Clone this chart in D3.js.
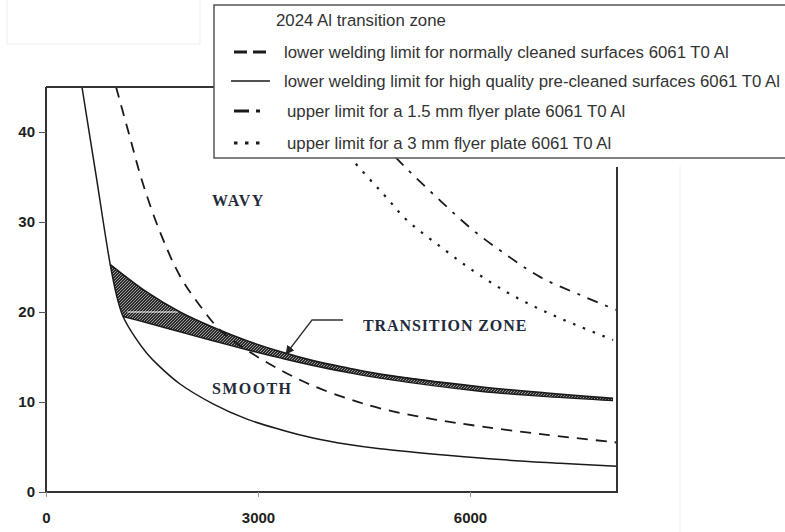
<!DOCTYPE html>
<html>
<head>
<meta charset="utf-8">
<script src="https://cdn.jsdelivr.net/npm/d3@7"></script>
<style>
  html, body { margin: 0; padding: 0; background: #fff; }
  svg { display: block; }
</style>
</head>
<body>
<svg id="chart" width="785" height="532"></svg>
<script>
const svg = d3.select("#chart");

// tick values
const xTicks = [0, 3000, 6000];
const yTicks = [0, 10, 20, 30, 40];

// curves: [x, y]
const highQualityLimit = [[509, 45.0], [708, 35.2], [906, 25.4], [1000, 21.8], [1090, 19.5], [1259, 17.2],
  [1429, 15.4], [1613, 13.9], [1896, 12.0], [2363, 9.8], [2844, 8.1], [3311, 6.95], [3778, 6.0],
  [4259, 5.3], [4726, 4.8], [5717, 4.05], [6424, 3.6], [7273, 3.2], [8080, 2.85]];
const normalCleanLimit = [[991, 45.0], [1174, 39.8], [1358, 34.6], [1613, 28.9], [1896, 24.0], [2179, 20.7],
  [2462, 18.0], [2816, 15.9], [3170, 14.2], [3453, 13.0], [3778, 11.8], [4259, 10.4], [4726, 9.3],
  [5400, 8.2], [6141, 7.3], [7089, 6.35], [8080, 5.5]];
const flyer15Limit = [[4655, 39.6], [5108, 35.9], [5575, 32.4], [6042, 29.1], [6523, 26.3], [6990, 23.9],
  [7556, 21.9], [8080, 20.2]];
const flyer3Limit = [[4089, 39.1], [4471, 35.7], [4797, 32.9], [5108, 30.2], [5575, 27.3], [6042, 24.6],
  [6523, 22.2], [6990, 20.3], [7485, 18.6], [8024, 16.9]];
// 2024 Al transition zone, upper and lower edges
const zoneUpper = [[906, 25.3], [1429, 22.2], [1896, 20.0], [2363, 18.3], [2844, 16.8], [3311, 15.6],
  [3778, 14.6], [4259, 13.8], [4726, 13.1], [6141, 11.7], [7089, 11.0], [8024, 10.4]];
const zoneLower = [[1090, 19.5], [1429, 18.8], [1896, 17.8], [2363, 16.8], [2844, 15.8], [3311, 14.9],
  [3778, 14.05], [4259, 13.3], [4726, 12.65], [6141, 11.2], [7089, 10.6], [8024, 10.15]];

const legendLabels = [
  "2024 Al transition zone",
  "lower welding limit for normally cleaned surfaces 6061 T0 Al",
  "lower welding limit for high quality pre-cleaned surfaces 6061 T0 Al",
  "upper limit for a 1.5 mm flyer plate 6061 T0 Al",
  "upper limit for a 3 mm flyer plate 6061 T0 Al"
];

// plot box
const plotLeft = 46, plotRight = 617, plotTop = 87, plotBottom = 492;
const x = d3.scaleLinear().domain([0, 8080]).range([plotLeft, plotRight]);
const y = d3.scaleLinear().domain([0, 45]).range([plotBottom, plotTop]);

const line = d3.line()
    .x(d => x(d[0]))
    .y(d => y(d[1]))
    .curve(d3.curveCatmullRom.alpha(0.5));

// faint scan leftovers
svg.append("rect")
    .attr("x", 7).attr("y", -2).attr("width", 193).attr("height", 46)
    .attr("fill", "none").attr("stroke", "#eeeeee").attr("stroke-width", 1);
svg.append("line")
    .attr("x1", 680).attr("x2", 680).attr("y1", 166).attr("y2", 532)
    .attr("stroke", "#eeeeee").attr("stroke-width", 1);

// hatch pattern for the transition zone
const defs = svg.append("defs");
const pat = defs.append("pattern")
    .attr("id", "hatch")
    .attr("patternUnits", "userSpaceOnUse")
    .attr("width", 3).attr("height", 3);
pat.append("rect").attr("width", 3).attr("height", 3).attr("fill", "#2a2a2a");
pat.append("path").attr("d", "M-1,1 l2,-2 M0,3 l3,-3 M2,4 l2,-2")
    .attr("stroke", "#cfcfcf").attr("stroke-width", 0.7);

// zone polygon: upper edge, lower edge back, then up the solid curve
const zonePoly = zoneUpper.concat(zoneLower.slice().reverse(), [[1000, 21.8]]);
svg.append("path")
    .attr("d", d3.line().x(d => x(d[0])).y(d => y(d[1])).curve(d3.curveLinearClosed)(zonePoly))
    .attr("fill", "url(#hatch)")
    .attr("stroke", "none");

// white gridline at 20 that shows through the hatch
svg.append("line")
    .attr("x1", x(1150)).attr("x2", x(1870))
    .attr("y1", y(20)).attr("y2", y(20))
    .attr("stroke", "#fff").attr("stroke-width", 1.2);

svg.append("path").datum(zoneUpper).attr("d", line)
    .attr("fill", "none").attr("stroke", "#1a1a1a").attr("stroke-width", 1.6);
svg.append("path").datum(zoneLower).attr("d", line)
    .attr("fill", "none").attr("stroke", "#1a1a1a").attr("stroke-width", 1.4);

// limit curves
svg.append("path").datum(highQualityLimit).attr("d", line)
    .attr("fill", "none").attr("stroke", "#1a1a1a").attr("stroke-width", 1.5);
svg.append("path").datum(normalCleanLimit).attr("d", line)
    .attr("fill", "none").attr("stroke", "#1a1a1a").attr("stroke-width", 1.8)
    .attr("stroke-dasharray", "11,8");
svg.append("path").datum(flyer15Limit).attr("d", line)
    .attr("fill", "none").attr("stroke", "#1a1a1a").attr("stroke-width", 1.8)
    .attr("stroke-dasharray", "11,8,3,8");
svg.append("path").datum(flyer3Limit).attr("d", line)
    .attr("fill", "none").attr("stroke", "#1a1a1a").attr("stroke-width", 2.2)
    .attr("stroke-dasharray", "2.5,8");

// frame
const frame = svg.append("g").attr("stroke", "#333").attr("stroke-width", 2).attr("fill", "none");
frame.append("path").attr("d", `M${plotLeft},${plotTop} V${plotBottom} H${plotRight} V167`);
frame.append("path").attr("d", `M${plotLeft},${plotTop} H214`);

// axes
const yAxis = svg.append("g")
    .attr("transform", `translate(${plotLeft},0)`)
    .call(d3.axisLeft(y).tickValues(yTicks).tickSize(7).tickPadding(4));
yAxis.select(".domain").remove();
yAxis.selectAll("line").attr("stroke", "#555").attr("stroke-width", 1);

const xAxis = svg.append("g")
    .attr("transform", `translate(0,${plotBottom})`)
    .call(d3.axisBottom(x).tickValues(xTicks).tickFormat(d3.format("d")).tickSize(5).tickPadding(15));
xAxis.select(".domain").remove();
xAxis.selectAll("line").attr("stroke", "#999").attr("stroke-width", 1);

svg.selectAll(".tick text")
    .attr("font-family", "Liberation Sans, Arial, sans-serif")
    .attr("font-weight", "bold")
    .attr("font-size", "15px")
    .attr("fill", "#1e1e1e");

// region labels
const regionLabels = [
  { text: "WAVY", x: 212, y: 200, ls: 1.5 },
  { text: "TRANSITION ZONE", x: 363, y: 325, ls: 0.9 },
  { text: "SMOOTH", x: 212, y: 388, ls: 1.4 }
];
svg.selectAll("text.region")
    .data(regionLabels)
    .enter()
    .append("text")
    .attr("class", "region")
    .attr("x", d => d.x)
    .attr("y", d => d.y)
    .attr("dominant-baseline", "central")
    .attr("font-family", "Liberation Serif, Times New Roman, serif")
    .attr("font-weight", "bold")
    .attr("font-size", "16px")
    .attr("letter-spacing", d => d.ls)
    .attr("fill", "#232b3a")
    .text(d => d.text);

// arrow to the zone
defs.append("marker")
    .attr("id", "arrow")
    .attr("viewBox", "0 0 10 10")
    .attr("refX", 9).attr("refY", 5)
    .attr("markerWidth", 9).attr("markerHeight", 9)
    .attr("markerUnits", "userSpaceOnUse")
    .attr("orient", "auto")
    .append("path").attr("d", "M0,0 L10,5 L0,10 z").attr("fill", "#222");
svg.append("path")
    .attr("d", "M343,320 H312 L286,354")
    .attr("fill", "none")
    .attr("stroke", "#333")
    .attr("stroke-width", 1.3)
    .attr("marker-end", "url(#arrow)");

// legend
const legend = svg.append("g");
legend.append("rect")
    .attr("x", 214).attr("y", 5)
    .attr("width", 590).attr("height", 153)
    .attr("fill", "#fff")
    .attr("stroke", "#555")
    .attr("stroke-width", 1.5);

const rowY = [20, 52, 81, 111, 143];
const rowX = [276, 284, 284, 287, 287];
const sampleDash = [null, "13,6", null, "15,7,4,20", "3.5,7.5"];
legendLabels.forEach((label, i) => {
    if (i > 0) {
        legend.append("line")
            .attr("x1", i === 2 ? 231 : 234).attr("x2", i === 2 ? 270 : 266)
            .attr("y1", rowY[i]).attr("y2", rowY[i])
            .attr("stroke", "#1a1a1a")
            .attr("stroke-width", i === 2 ? 1.6 : 3)
            .attr("stroke-dasharray", sampleDash[i]);
    }
    legend.append("text")
        .attr("x", rowX[i])
        .attr("y", rowY[i])
        .attr("dominant-baseline", "central")
        .attr("font-family", "Liberation Sans, Arial, sans-serif")
        .attr("font-size", "16.8px")
        .attr("fill", "#333")
        .text(label);
});
</script>
</body>
</html>
